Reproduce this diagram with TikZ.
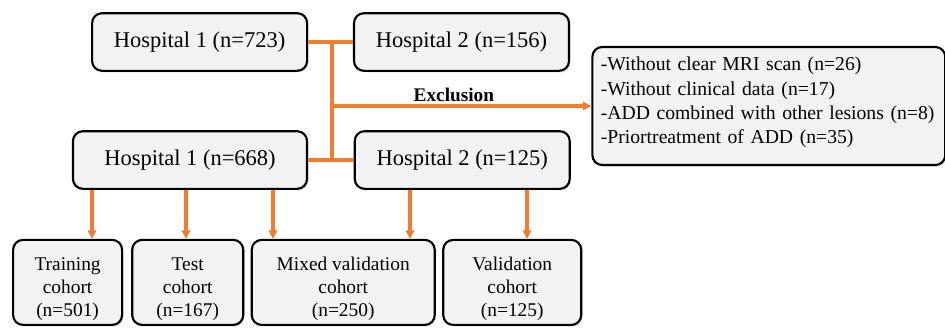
\documentclass[tikz,border=0pt]{standalone}
\usepackage{fontspec}
\setmainfont{Liberation Serif}
\usetikzlibrary{positioning,arrows.meta,calc,shadows}
\definecolor{linkorange}{HTML}{ED7D31}
\definecolor{boxgray}{HTML}{F2F2F2}
\newcommand{\padtop}{\rule{0pt}{19pt}}

\begin{document}
\begin{tikzpicture}[
  >={Triangle[length=6pt, width=6pt]},
  box/.style={draw, fill=boxgray, rounded corners=7pt, line width=1.5pt, align=center, inner sep=2pt,
    drop shadow={shadow xshift=1pt, shadow yshift=-1.2pt, opacity=0.25}},
  site/.style={box, minimum height=1.44cm, font=\fontsize{16}{19}\selectfont},
  cohort/.style={box, minimum height=2.125cm, font=\fontsize{13.8}{16.5}\selectfont},
  note/.style={box, align=left, inner xsep=6pt, text width=8.4cm, minimum height=2.95cm, font=\fontsize{14}{17.3}\selectfont,
    execute at end node={\rule[-8pt]{0pt}{0pt}}},
  link/.style={draw=linkorange, line width=2.4pt},
  arr/.style={link, ->},
  lab/.style={font=\fontsize{13.7}{16}\selectfont\bfseries, inner sep=2pt},
]
\useasboundingbox (0,0) rectangle (23.625,-8.275);

% hospitals
\node[site, minimum width=5.375cm] (h1a) at (4.99,-1.05) {Hospital 1 (n=723)};
\node[site, minimum width=5.375cm, right=1.12cm of h1a] (h2a) {Hospital 2 (n=156)};
\node[site, minimum width=5.85cm] (h1b) at (4.75,-4.0) {Hospital 1 (n=668)};
\node[site, minimum width=5.375cm, right=1.14cm of h1b] (h2b) {Hospital 2 (n=125)};

% exclusion criteria
\node[note] (excl) at (19.22,-2.65) {-Without clear MRI scan (n=26)\\ -Without clinical data (n=17)\\ -ADD combined with other lesions (n=8)\\ -Priortreatment of ADD (n=35)};

% cohorts
\node[cohort, minimum width=2.725cm] (train) at (1.69,-7.06) {\padtop Training\\ cohort\\ (n=501)};
\node[cohort, minimum width=2.775cm, right=0.2cm of train] (test) {\padtop Test\\ cohort\\ (n=167)};
\node[cohort, minimum width=4.575cm, right=0.16cm of test] (mixed) {\padtop Mixed validation\\ cohort\\ (n=250)};
\node[cohort, minimum width=3.45cm, right=0.16cm of mixed] (valid) {\padtop Validation\\ cohort\\ (n=125)};

% connectors
\coordinate (jt) at (8.3,-1.05);
\coordinate (jb) at (8.3,-4.0);
\draw[link] (h1a.east) -- (h2a.west);
\draw[link] (h1b.east) -- (h2b.west);
\draw[link] (jt) -- (jb);
\draw[arr] (jt |- excl.west) -- node[lab, above, pos=0.47] {Exclusion} (excl.west);

\coordinate (t1) at (2.3,0);
\coordinate (t2) at (4.65,0);
\coordinate (t3) at (6.825,0);
\coordinate (t4) at (10.25,0);
\coordinate (t5) at (13.175,0);
\foreach \c/\src/\dst in {t1/h1b/train, t2/h1b/test, t3/h1b/mixed, t4/h2b/mixed, t5/h2b/valid}
  \draw[arr] (\src.south -| \c) -- (\dst.north -| \c);
\end{tikzpicture}
\end{document}
